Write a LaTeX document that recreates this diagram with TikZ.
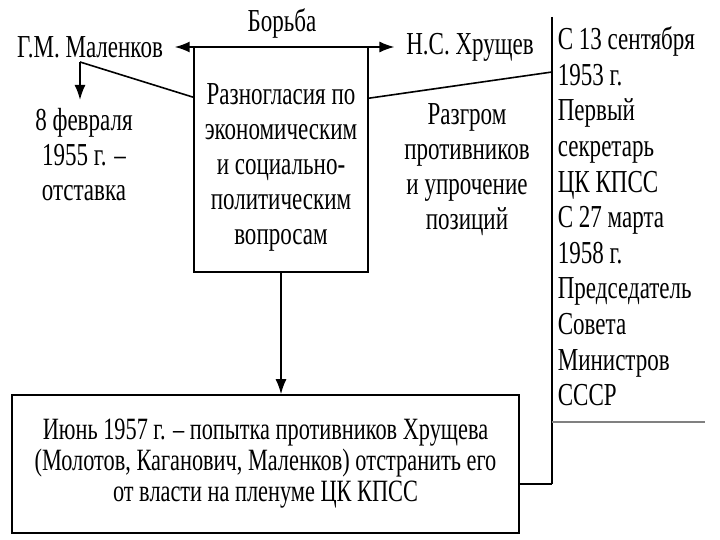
\documentclass[tikz,border=0pt]{standalone}
\usepackage{fontspec}
\setmainfont{Liberation Serif}[FakeStretch=0.72]
\usetikzlibrary{arrows.meta, positioning}

\begin{document}
\begin{tikzpicture}[x=1pt, y=-1pt, line width=1.6pt, >={Latex[length=15pt, width=11pt]},
    txt/.style={align=center, inner sep=0pt, font=\fontsize{32}{35}\selectfont},
    leader/.style={txt, inner xsep=11pt},
    box/.style={draw, rectangle, inner sep=0pt}]

    \useasboundingbox (0,0) rectangle (720,540);

    % struggle at the top
    \node[box, minimum width=174pt, minimum height=225pt] (R) at (281,159.5) {};
    \node[txt] (R1) at ([yshift=-8pt]R.center) {Разногласия по\\экономическим\\и социально-\\политическим\\вопросам};
    \node[leader] (M) at (90,47) {Г.М. Маленков};
    \node[leader] (H) at (470,47) {Н.С. Хрущев};
    \node[txt, anchor=base] (B) at (282,32) {Борьба};
    \draw[<->] (M) -- (H);

    % Malenkov
    \coordinate (m1) at (80,62);
    \coordinate (r1) at ([yshift=-51pt]R.north west);
    \node[txt, inner ysep=8pt] (O) at (84,155) {8 февраля\\1955 г. --\\отставка};
    \draw (r1) -- (m1);
    \draw[->] (m1) -- (m1 |- O.north);

    % Khrushchev
    \node[txt] (Z) at (467,170) {Разгром\\противников\\и упрочение\\позиций};
    \coordinate (v1) at (552,17);
    \coordinate (v2) at (552,484);
    \coordinate (v3) at (552,72);
    \coordinate (v4) at (552,422);
    \coordinate (v5) at (705,422);
    \coordinate (r2) at ([yshift=-52pt]R.north east);
    \draw (v1) -- (v2);
    \draw (r2) -- (v3);
    \node[txt, anchor=north west, align=left, font=\fontsize{32}{35.6}\selectfont] (S) at (557,26) {С 13 сентября\\1953 г.\\Первый\\секретарь\\ЦК КПСС\\С 27 марта\\1958 г.\\Председатель\\Совета\\Министров\\СССР};
    \draw[gray] (v4) -- (v5);

    % June 1957
    \node[box, minimum width=507pt, minimum height=138pt, align=center, font=\fontsize{31}{31}\selectfont] (J) at (265.5,464) {Июнь 1957 г. -- попытка противников Хрущева\\(Молотов, Каганович, Маленков) отстранить его\\от власти на пленуме ЦК КПСС};
    \draw[->] (R.south) -- (R.south |- J.north);
    \draw (J.east |- v2) -- (v2);

\end{tikzpicture}
\end{document}
